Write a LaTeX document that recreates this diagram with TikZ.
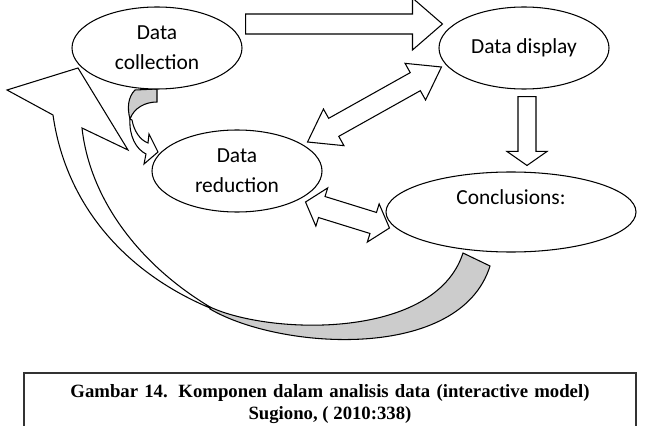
\documentclass[tikz,border=0pt]{standalone}
\usepackage{fontspec}
\setmainfont{Carlito}
\newfontfamily\capfont{Liberation Serif}
\usetikzlibrary{calc,shapes.geometric}
\pgfdeclarelayer{background}
\pgfsetlayers{background,main}

\tikzset{
  stage/.style={ellipse, draw, line width=0.9pt, fill=white, inner sep=0pt,
    minimum width=5.1cm, minimum height=2.46cm, align=center,
    font=\fontsize{18.3}{25.6}\selectfont},
  arrowbody/.style={draw, fill=white, line width=0.9pt},
  backface/.style={draw, fill=black!20, line width=0.9pt},
}

% block arrow: start, end, half shaft, half head, head length
\newcommand{\blockarrow}[5]{%
  \filldraw[arrowbody] ($(#1)!#3!90:(#2)$)
    -- ($(#2)!#5!(#1)!#3!-90:(#1)$) -- ($(#2)!#5!(#1)!#4!-90:(#1)$)
    -- (#2)
    -- ($(#2)!#5!(#1)!#4!90:(#1)$) -- ($(#2)!#5!(#1)!#3!90:(#1)$)
    -- ($(#1)!#3!-90:(#2)$) -- cycle;}
% same with a head at both ends
\newcommand{\dblarrow}[5]{%
  \filldraw[arrowbody] (#1)
    -- ($(#1)!#5!(#2)!#4!90:(#2)$) -- ($(#1)!#5!(#2)!#3!90:(#2)$)
    -- ($(#2)!#5!(#1)!#3!-90:(#1)$) -- ($(#2)!#5!(#1)!#4!-90:(#1)$)
    -- (#2)
    -- ($(#2)!#5!(#1)!#4!90:(#1)$) -- ($(#2)!#5!(#1)!#3!90:(#1)$)
    -- ($(#1)!#5!(#2)!#3!-90:(#2)$) -- ($(#1)!#5!(#2)!#4!-90:(#2)$)
    -- cycle;}

\begin{document}
\begin{tikzpicture}[x=0.03cm, y=-0.03cm]
	\useasboundingbox (0,0) rectangle (646,426);
	
	% the four stages
	\node[stage] (coll) at (157,48) {Data\\collection};
	\node[stage] (disp) at (524,48) {Data display};
	\node[stage] (red) at (237,171) {Data\\reduction};
	\node[stage, minimum width=7.5cm, minimum height=2.4cm] (concl) at (511,212) {Conclusions:\\\mbox{}};
	
	% ends of the block arrows
	\coordinate (a1s) at ($(coll.east)+(3,-24)$);
	\coordinate (a1e) at ($(disp.west)+(4,-24)$);
	\coordinate (a2s) at ($(disp.south)+(3,7)$);
	\coordinate (a2e) at ($(concl.north)+(16,-6)$);
	\coordinate (a3s) at ($(red.east)+(-15,-29)$);
	\coordinate (a3e) at ($(disp.west)+(3,19)$);
	\coordinate (a4s) at ($(red.east)+(-17,31)$);
	\coordinate (a4e) at ($(concl.west)+(4,16)$);
	
	\begin{pgfonlayer}{background}
	\blockarrow{a1s}{a1e}{0.3cm}{0.78cm}{0.9cm}
	\blockarrow{a2s}{a2e}{0.27cm}{0.6cm}{0.42cm}
	\dblarrow{a3s}{a3e}{0.31cm}{0.63cm}{0.9cm}
	\dblarrow{a4s}{a4e}{0.33cm}{0.6cm}{0.51cm}
	
	% small curved arrow, collection -> reduction
	\filldraw[backface] (135,90) -- (157,89) -- (157,102)
		.. controls (145,102) and (134,108) .. (130,119)
		.. controls (127,108) and (128,97) .. (135,90) -- cycle;
	\filldraw[arrowbody] (130,119) .. controls (129,136) and (136,149) .. (146,154)
		-- (144,164) -- (158,152) -- (149,134) -- (148,143)
		.. controls (140,140) and (134,131) .. (132,120) -- cycle;
	
	% big curved arrow, conclusions -> collection
	\filldraw[backface] (210,307) .. controls (270,335) and (435,340) .. (463,253)
		-- (490,266) .. controls (460,362) and (280,350) .. (210,309) -- cycle;
	\filldraw[arrowbody] (210,307) .. controls (140,265) and (90,200) .. (82,128)
		-- (128,150) -- (78,68) -- (7,90) -- (53,115)
		.. controls (65,200) and (120,270) .. (210,308) -- cycle;
	\end{pgfonlayer}
	
	% caption box
	\node[draw=black!80, line width=1pt, minimum width=18.36cm, minimum height=1.86cm, align=center,
		font=\capfont\bfseries\fontsize{16}{18.5}\selectfont] (cap) at (330,404)
		{\makebox[15.57cm][s]{Gambar 14. Komponen dalam analisis data (interactive model)}\\Sugiono, ( 2010:338)};
\end{tikzpicture}
\end{document}
